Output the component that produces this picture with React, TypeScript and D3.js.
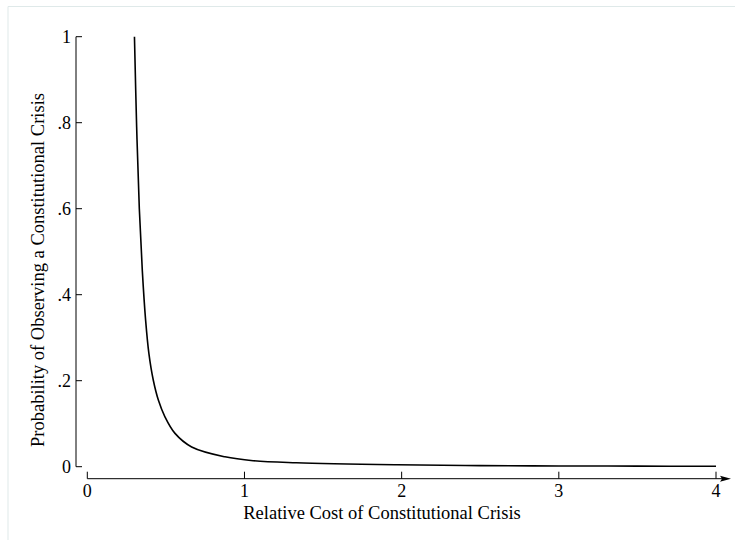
import * as d3 from 'd3'

// values
const costs: number[] = [0.3, 0.314, 0.331, 0.35, 0.371, 0.392, 0.42, 0.452, 0.494, 0.558, 0.664, 0.876, 1.055, 1.33, 1.97, 2.5, 3.0, 3.5, 4.0]
const probs: number[] = [1.0, 0.79, 0.6, 0.456, 0.341, 0.263, 0.201, 0.155, 0.116, 0.0775, 0.046, 0.023, 0.014, 0.0093, 0.0046, 0.0025, 0.0018, 0.0013, 0.001]

const xTicks: number[] = [0, 1, 2, 3, 4]
const yTicks: number[] = [0, 0.2, 0.4, 0.6, 0.8, 1]
const yTickLabels: string[] = ['0', '.2', '.4', '.6', '.8', '1']

const xTitle = 'Relative Cost of Constitutional Crisis'
const yTitle = 'Probability of Observing a Constitutional Crisis'

export default function App() {
  const width = 735
  const height = 540
  const font = '"Liberation Serif", "Times New Roman", serif'

  const x = d3.scaleLinear().domain([0, 4]).range([87.3, 716])
  const y = d3.scaleLinear().domain([0, 1]).range([466.7, 36.7])

  const xAxisY = 478.7
  const yAxisX = 76

  const line = d3.line<number>()
    .x((d, i) => x(costs[i]))
    .y(d => y(d))
    .curve(d3.curveCatmullRom.alpha(0.5))

  return (
    <svg width={width} height={height} style={{ position: 'absolute', left: 0, top: 0, background: '#fff' }}>
      {/* faint page frame */}
      <path d={`M8,${height} V6.5 H${width}`} fill="none" stroke="#dfe9e9" strokeWidth={1} />

      {/* y axis */}
      <line x1={yAxisX} x2={yAxisX} y1={y(1)} y2={y(0)} stroke="#000" strokeWidth={1} />
      {yTicks.map((t, i) => (
        <g key={t}>
          <line x1={yAxisX} x2={yAxisX + 6} y1={y(t)} y2={y(t)} stroke="#000" strokeWidth={1} />
          <text x={yAxisX - 5} y={y(t)} dy="0.35em" textAnchor="end" fontFamily={font} fontSize={18}>
            {yTickLabels[i]}
          </text>
        </g>
      ))}
      <text
        transform={`translate(44,270) rotate(-90)`}
        textAnchor="middle"
        fontFamily={font}
        fontSize={18.5}
      >
        {yTitle}
      </text>

      {/* x axis with arrow */}
      <line x1={x(0)} x2={726} y1={xAxisY} y2={xAxisY} stroke="#000" strokeWidth={1} />
      <path d={`M720,${xAxisY - 3} L731,${xAxisY} L720,${xAxisY + 3} L722,${xAxisY} Z`} fill="#000" />
      {xTicks.map(t => (
        <g key={t}>
          <line x1={x(t)} x2={x(t)} y1={xAxisY} y2={xAxisY - 7} stroke="#000" strokeWidth={1} />
          <text x={x(t)} y={497} textAnchor="middle" fontFamily={font} fontSize={18}>
            {t}
          </text>
        </g>
      ))}
      <text x={382} y={519} textAnchor="middle" fontFamily={font} fontSize={18.5}>
        {xTitle}
      </text>

      {/* curve */}
      <path d={line(probs) || ''} fill="none" stroke="#000" strokeWidth={1.6} />
    </svg>
  )
}
